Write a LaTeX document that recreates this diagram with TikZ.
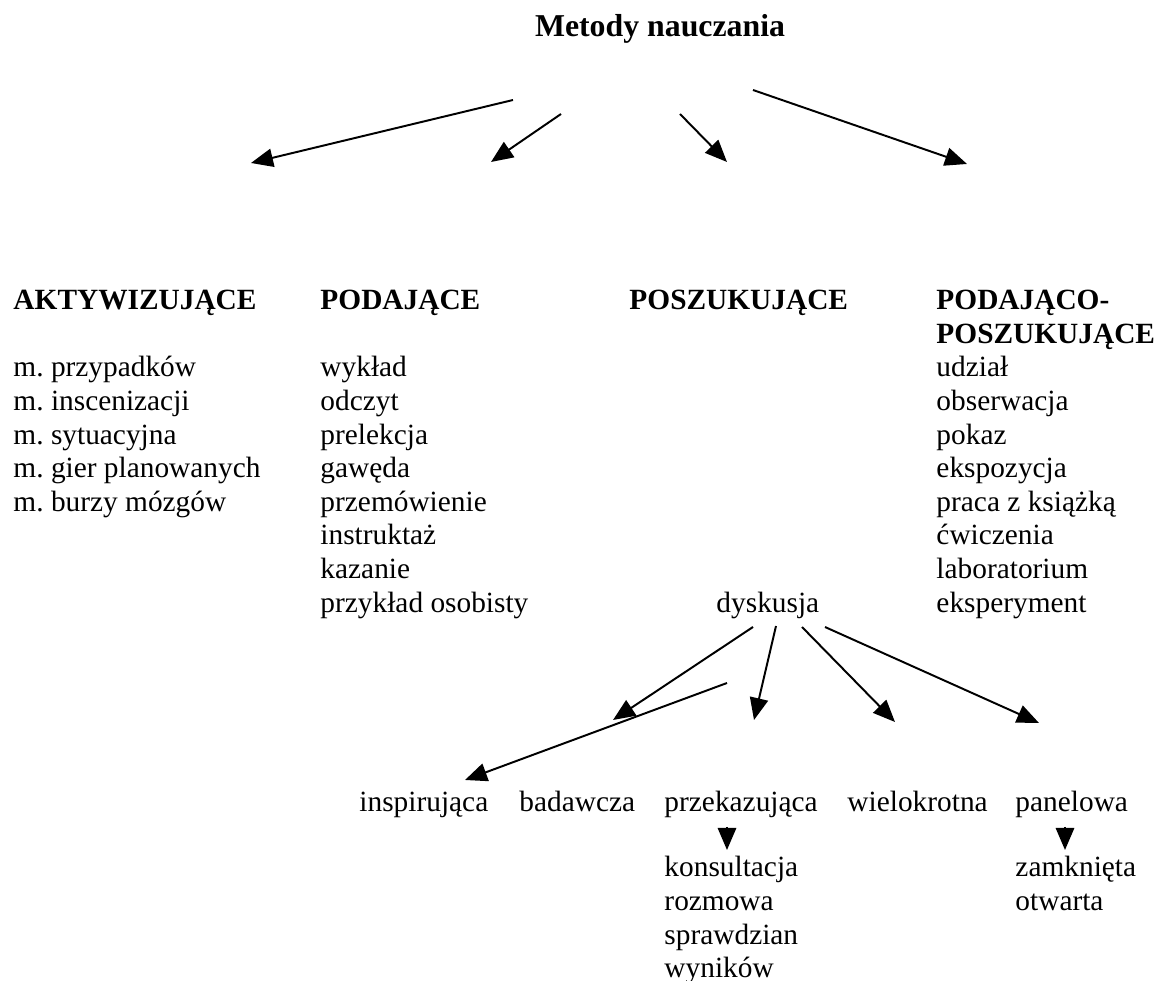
\documentclass[tikz,border=0pt]{standalone}
\usepackage{fontspec}
\setmainfont{Liberation Serif}
\usetikzlibrary{arrows.meta}
\frenchspacing

\begin{document}
\begin{tikzpicture}[x=0.4088pt,y=-0.4088pt,
  arr/.style={thick, black, -{Triangle[length=9pt,width=7.5pt]}},
  head/.style={font=\fontsize{12}{13.8}\selectfont\bfseries}]
\useasboundingbox (0,0) rectangle (1155,981);
\begin{scope}[every node/.style={anchor=base west,inner sep=0pt,font=\fontsize{12}{13.8}\selectfont}]
\node (0)[anchor=base,font=\fontsize{13}{15}\selectfont\bfseries] at (660,37) {Metody nauczania};

\node (1)[head] at (13,310) {AKTYWIZUJĄCE};
\node (2)[head] at (320,310) {PODAJĄCE};
\node (3)[head] at (629,310) {POSZUKUJĄCE};
\node (4)[head] at (936,310) {PODAJĄCO-};
\node (5)[head] at (936,343.6) {POSZUKUJĄCE};

\node (6) at (13,377) {m. przypadków};
\node (7) at (13,410.6) {m. inscenizacji};
\node (8) at (13,444.2) {m. sytuacyjna};
\node (9) at (13,477.8) {m. gier planowanych};
\node (10) at (13,511.4) {m. burzy mózgów};

\node (11) at (320,377) {wykład};
\node (12) at (320,410.6) {odczyt};
\node (13) at (320,444.2) {prelekcja};
\node (14) at (320,477.8) {gawęda};
\node (15) at (320,511.4) {przemówienie};
\node (16) at (320,545) {instruktaż};
\node (17) at (320,578.6) {kazanie};
\node (18) at (320,612.2) {przykład osobisty};

\node (19) at (716,612.2) {dyskusja};

\node (20) at (936,377) {udział};
\node (21) at (936,410.6) {obserwacja};
\node (22) at (936,444.2) {pokaz};
\node (23) at (936,477.8) {ekspozycja};
\node (24) at (936,511.4) {praca z książką};
\node (25) at (936,545) {ćwiczenia};
\node (26) at (936,578.6) {laboratorium};
\node (27) at (936,612.2) {eksperyment};

\node (28) at (359,812) {inspirująca};
\node (29) at (519,812) {badawcza};
\node (30) at (664,812) {przekazująca};
\node (31) at (847,812) {wielokrotna};
\node (32) at (1015,812) {panelowa};

\node (33) at (664,877) {konsultacja};
\node (34) at (664,910.6) {rozmowa};
\node (35) at (664,944.2) {sprawdzian};
\node (36) at (664,977.8) {wyników};

\node (37) at (1015,877) {zamknięta};
\node (38) at (1015,910.6) {otwarta};
\end{scope}

% top arrows
\coordinate (s1) at (513,100);  \coordinate (e1) at (251,163);
\coordinate (s2) at (561,114);  \coordinate (e2) at (491,162);
\coordinate (s3) at (680,114);  \coordinate (e3) at (727,162);
\coordinate (s4) at (753,90);   \coordinate (e4) at (967,164);

\draw[arr] (s1) -- (e1);
\draw[arr] (s2) -- (e2);
\draw[arr] (s3) -- (e3);
\draw[arr] (s4) -- (e4);

% arrows below dyskusja
\coordinate (s5) at (753,627);  \coordinate (e5) at (613,720);
\coordinate (s6) at (727,683);  \coordinate (e6) at (465,780);
\coordinate (s7) at (776,626);  \coordinate (e7) at (754,720);
\coordinate (s8) at (802,627);  \coordinate (e8) at (895,722);
\coordinate (s9) at (825,627);  \coordinate (e9) at (1039,723);

\draw[arr] (s5) -- (e5);
\draw[arr] (s6) -- (e6);
\draw[arr] (s7) -- (e7);
\draw[arr] (s8) -- (e8);
\draw[arr] (s9) -- (e9);

% short arrows
\coordinate (s10) at (727,827);  \coordinate (e10) at (727,850);
\coordinate (s11) at (1065,827); \coordinate (e11) at (1065,850);

\draw[arr] (s10) -- (e10);
\draw[arr] (s11) -- (e11);
\end{tikzpicture}
\end{document}
